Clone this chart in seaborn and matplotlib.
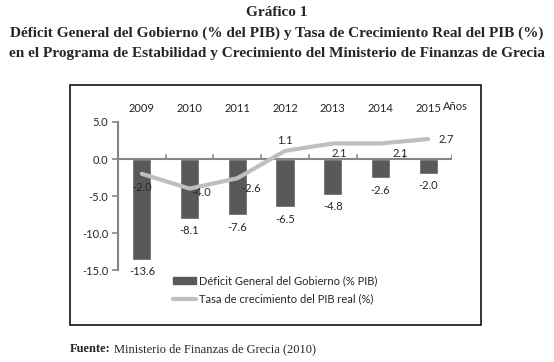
import seaborn as sns
import matplotlib.pyplot as plt
from matplotlib.patches import Rectangle, Patch
from matplotlib.lines import Line2D
import numpy as np
import pandas as pd

years = ["2009", "2010", "2011", "2012", "2013", "2014", "2015"]
deficit = [-13.6, -8.1, -7.6, -6.5, -4.8, -2.6, -2.0]
growth = [-2.0, -4.0, -2.6, 1.1, 2.1, 2.1, 2.7]
yticks = [5.0, 0.0, -5.0, -10.0, -15.0]

lbl_bar = "Déficit General del Gobierno (% PIB)"
lbl_line = "Tasa de crecimiento del PIB real (%)"

# offsets (pixels) of the growth labels, as in the original
line_off = [(0, -14), (12, -4), (14, -10), (0, 10), (7, -10), (20, -10), (18, 0)]

sns.set_theme(style="white")
plt.rcParams['font.family'] = ['Lato', 'DejaVu Sans']
fs = 8

df = pd.DataFrame({"Año": years, "Deficit": deficit, "PIB": growth})

fig = plt.figure(figsize=(5.54, 3.62), dpi=100)
ax = fig.add_axes([0.213, 0.254, 0.603, 0.409])

sns.barplot(data=df, x="Año", y="Deficit", color="#595959", saturation=1,
            width=0.4, ax=ax)
xpos = np.arange(len(years))
sns.lineplot(x=xpos, y=df["PIB"], color="#bfbfbf", linewidth=3, ax=ax)

ax.set_xlim(-0.5, len(years) - 0.5)
ax.set_ylim(-15, 5)
ax.set_yticks(yticks)
ax.set_yticklabels([f"{v:.1f}" for v in yticks], fontsize=fs)
ax.set_xlabel("")
ax.set_ylabel("")

# years on top, no tick marks there
ax.xaxis.set_ticks_position("top")
ax.set_xticks(xpos)
ax.set_xticklabels(years, fontsize=fs)
ax.tick_params(axis="x", length=0, pad=6)
fig.text(443 / 554, 1 - 107 / 362, "Años", fontsize=fs, va="center", ha="left")

for s in ["top", "right", "bottom"]:
    ax.spines[s].set_visible(False)
ax.spines["left"].set_color("#868686")
ax.spines["left"].set_linewidth(1.5)
ax.tick_params(axis="y", left=True, length=4, width=1.2, color="#868686", pad=3)

# zero line with small ticks at category boundaries
ax.axhline(0, color="#868686", linewidth=1.5, zorder=1)
for b in np.arange(0.5, len(years), 1.0):
    ax.plot([b, b], [0, 0.5], color="#868686", linewidth=1.2, zorder=1)

for i, v in enumerate(deficit):
    ax.annotate(f"{v:.1f}", (i, v), xytext=(0, -12), textcoords="offset pixels",
                ha="center", va="center", fontsize=fs)
for i, v in enumerate(growth):
    ax.annotate(f"{v:.1f}", (i, v), xytext=line_off[i], textcoords="offset pixels",
                ha="center", va="center", fontsize=fs)

handles = [Patch(color="#595959"), Line2D([0], [0], color="#bfbfbf", linewidth=3)]
fig.legend(handles, [lbl_bar, lbl_line], loc="upper left",
           bbox_to_anchor=(173 / 554, (362 - 275) / 362), frameon=False,
           fontsize=fs, handlelength=2.1, handleheight=0.6, handletextpad=0.2,
           labelspacing=0.65, borderpad=0, borderaxespad=0)

fig.patches.append(Rectangle((70 / 554, 37 / 362), 411 / 554, 240 / 362,
                             transform=fig.transFigure, fill=False,
                             edgecolor="black", linewidth=1.1))

serif = ['Liberation Serif', 'DejaVu Serif']
fig.text(0.5, 1 - 13 / 362, "Gráfico 1", ha="center", va="center",
         fontsize=11, fontweight="bold", family=serif)
fig.text(0.5, 1 - 33 / 362,
         "Déficit General del Gobierno (% del PIB) y Tasa de Crecimiento Real del PIB (%)",
         ha="center", va="center", fontsize=11, fontweight="bold", family=serif)
fig.text(0.5, 1 - 53 / 362,
         "en el Programa de Estabilidad y Crecimiento del Ministerio de Finanzas de Grecia",
         ha="center", va="center", fontsize=11, fontweight="bold", family=serif)

t = fig.text(70 / 554, 1 - 352 / 362, "Fuente:", ha="left", va="baseline",
             fontsize=9, fontweight="bold", family=serif)
fig.canvas.draw()
bb = t.get_window_extent()
fig.text((bb.x1 + 3) / 554, 1 - 352 / 362, "Ministerio de Finanzas de Grecia (2010)",
         ha="left", va="baseline", fontsize=9, family=serif)

fig.savefig("out.png", dpi=100)
